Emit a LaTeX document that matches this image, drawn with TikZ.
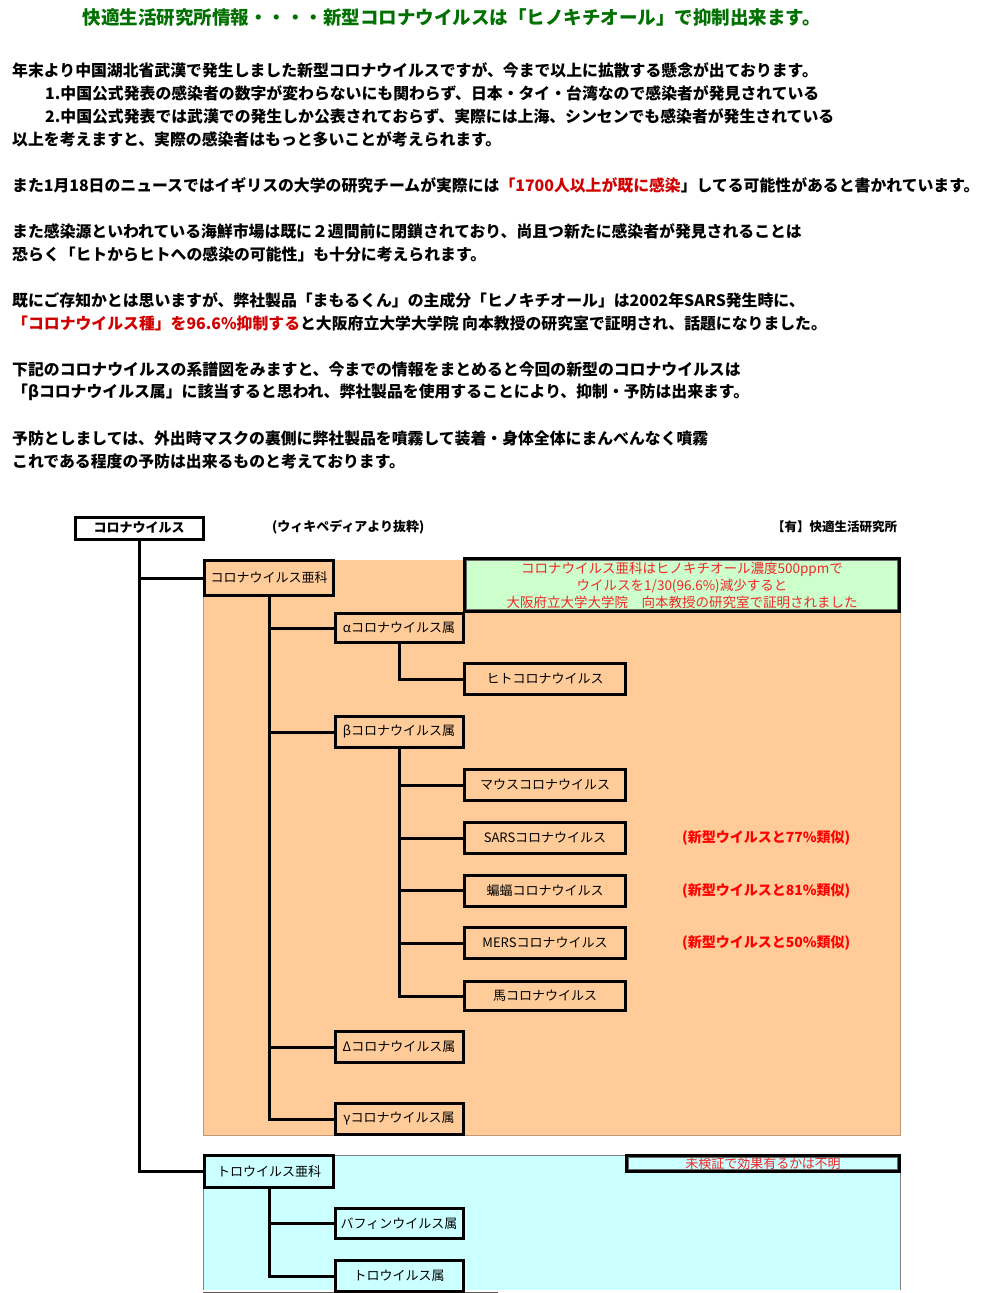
\documentclass[tikz,border=0pt]{standalone}
\usepackage{fontspec}
\setmainfont{Noto Sans CJK JP}
\usetikzlibrary{positioning}
\definecolor{titlegreen}{HTML}{007000}
\definecolor{alertred}{HTML}{D00000}
\definecolor{notered}{HTML}{F02828}
\definecolor{peach}{HTML}{FFCC99}
\definecolor{paleaqua}{HTML}{CCFFFF}
\definecolor{palemint}{HTML}{CCFFCC}
\tikzset{
  txt/.style={anchor=west,inner sep=0pt,font=\fontsize{15.85}{18}\selectfont\bfseries},
  taxon/.style={draw,line width=3pt,fill=peach,inner sep=0pt,minimum width=128pt,
    minimum height=29pt,font=\fontsize{13}{15}\selectfont},
  species/.style={taxon,minimum width=161pt,minimum height=31pt},
  simil/.style={anchor=west,inner sep=0pt,text=red,font=\fontsize{14}{16}\selectfont\bfseries},
  memo/.style={draw,line width=2.5pt,inner sep=0pt,text=notered,align=center},
  link/.style={line width=3pt},
}
\begin{document}
\begin{tikzpicture}[x=1pt,y=-1pt]
  \useasboundingbox (0,0) rectangle (1000,1293);
  \node[inner sep=0pt,text=titlegreen,font=\fontsize{18.5}{20}\selectfont\bfseries] (title) at (452,18)
    {快適生活研究所情報・・・・新型コロナウイルスは「ヒノキチオール」で抑制出来ます。};
  \node[txt] (p1) at (12,70) {年末より中国湖北省武漢で発生しました新型コロナウイルスですが、今まで以上に拡散する懸念が出ております。};
  \node[txt] (p2) at (45,93) {1.中国公式発表の感染者の数字が変わらないにも関わらず、日本・タイ・台湾なので感染者が発見されている};
  \node[txt] (p3) at (45,116) {2.中国公式発表では武漢での発生しか公表されておらず、実際には上海、シンセンでも感染者が発生されている};
  \node[txt] (p4) at (12,139) {以上を考えますと、実際の感染者はもっと多いことが考えられます。};
  \node[txt] (p5) at (12,185) {また1月18日のニュースではイギリスの大学の研究チームが実際には{\color{alertred}「1700人以上が既に感染}」してる可能性があると書かれています。};
  \node[txt] (p6) at (12,231) {また感染源といわれている海鮮市場は既に２週間前に閉鎖されており、尚且つ新たに感染者が発見されることは};
  \node[txt] (p7) at (12,254) {恐らく「ヒトからヒトへの感染の可能性」も十分に考えられます。};
  \node[txt] (p8) at (12,300) {既にご存知かとは思いますが、弊社製品「まもるくん」の主成分「ヒノキチオール」は2002年SARS発生時に、};
  \node[txt] (p9) at (12,323) {{\color{alertred}「コロナウイルス種」を96.6\%抑制する}と大阪府立大学大学院 向本教授の研究室で証明され、話題になりました。};
  \node[txt] (p10) at (12,369) {下記のコロナウイルスの系譜図をみますと、今までの情報をまとめると今回の新型のコロナウイルスは};
  \node[txt] (p11) at (12,392) {「βコロナウイルス属」に該当すると思われ、弊社製品を使用することにより、抑制・予防は出来ます。};
  \node[txt] (p12) at (12,438) {予防としましては、外出時マスクの裏側に弊社製品を噴霧して装着・身体全体にまんべんなく噴霧};
  \node[txt] (p13) at (12,461) {これである程度の予防は出来るものと考えております。};

  \fill[peach] (203,560) rectangle (900,1135);
  \draw[peach!75!black,line width=0.6pt] (203,560) -- (203,1135) -- (900,1135) -- (900,560);
  \fill[paleaqua] (203,1155) rectangle (900,1290);
  \draw[gray,line width=0.6pt] (203,1290) -- (203,1155) -- (900,1155) -- (900,1290);
  \draw[gray!70!black,line width=1pt] (203,1292) -- (498,1292);

  \node[taxon,fill=white,minimum height=22pt,font=\fontsize{13}{15}\selectfont\bfseries] (corona) at (139,528) {コロナウイルス};
  \node[anchor=west,inner sep=0pt,font=\fontsize{13}{15}\selectfont\bfseries] (src) at (272,527) {(ウィキペディアより抜粋)};
  \node[anchor=west,inner sep=0pt,font=\fontsize{12.5}{15}\selectfont\bfseries] (lab) at (772,527) {【有】快適生活研究所};

  \node[taxon,minimum width=129pt,minimum height=35pt] (corsub) at (269,578) {コロナウイルス亜科};
  \node[memo,fill=palemint,minimum width=435pt,minimum height=53pt,font=\fontsize{13.5}{17}\selectfont] (memo1) at (682,585)
    {コロナウイルス亜科はヒノキチオール濃度500ppmで\\ウイルスを1/30(96.6\%)減少すると\\大阪府立大学大学院　向本教授の研究室で証明されました};
  \draw[black!60,line width=1pt] ([shift={(3.5,3.5)}]memo1.north west) rectangle ([shift={(-3.5,-3.5)}]memo1.south east);

  \node[taxon] (alpha) at (399,628) {αコロナウイルス属};
  \node[species] (human) at (545,679) {ヒトコロナウイルス};
  \node[taxon,minimum height=31pt] (beta) at (399,732) {βコロナウイルス属};
  \node[species] (mouse) at (545,785) {マウスコロナウイルス};
  \node[species] (sars) at (545,838) {SARSコロナウイルス};
  \node[species] (bat) at (545,890.5) {蝙蝠コロナウイルス};
  \node[species] (mers) at (545,943) {MERSコロナウイルス};
  \node[species,minimum height=29pt] (horse) at (545,996) {馬コロナウイルス};
  \node[taxon,minimum height=31pt] (delta) at (399,1047) {Δコロナウイルス属};
  \node[taxon,minimum height=31pt] (gamma) at (399,1119) {γコロナウイルス属};

  \node[simil,right=55pt of sars] (s77) {(新型ウイルスと77\%類似)};
  \node[simil,right=55pt of bat] (s81) {(新型ウイルスと81\%類似)};
  \node[simil,right=55pt of mers] (s50) {(新型ウイルスと50\%類似)};

  \node[taxon,fill=paleaqua,minimum width=129pt,minimum height=32pt] (torosub) at (269,1171.5) {トロウイルス亜科};
  \node[memo,fill=paleaqua,minimum width=273pt,minimum height=16pt,font=\fontsize{13}{13}\selectfont] (memo2) at (763,1163.5) {未検証で効果有るかは不明};
  \draw[black!60,line width=1pt] ([shift={(3.5,3.5)}]memo2.north west) rectangle ([shift={(-3.5,-3.5)}]memo2.south east);
  \node[taxon,fill=paleaqua,minimum height=30pt] (bafin) at (399,1223.5) {バフィンウイルス属};
  \node[taxon,fill=paleaqua,minimum height=31pt] (toro) at (399,1276) {トロウイルス属};

  \draw[link] (corona.south) |- (corsub.west);
  \draw[link] (corona.south) |- (torosub.west);
  \foreach \g in {alpha,beta,delta,gamma}
    \draw[link] (corsub.south) |- (\g.west);
  \draw[link] (alpha.south) |- (human.west);
  \foreach \s in {mouse,sars,bat,mers,horse}
    \draw[link] (beta.south) |- (\s.west);
  \foreach \g in {bafin,toro}
    \draw[link] (torosub.south) |- (\g.west);
\end{tikzpicture}
\end{document}
